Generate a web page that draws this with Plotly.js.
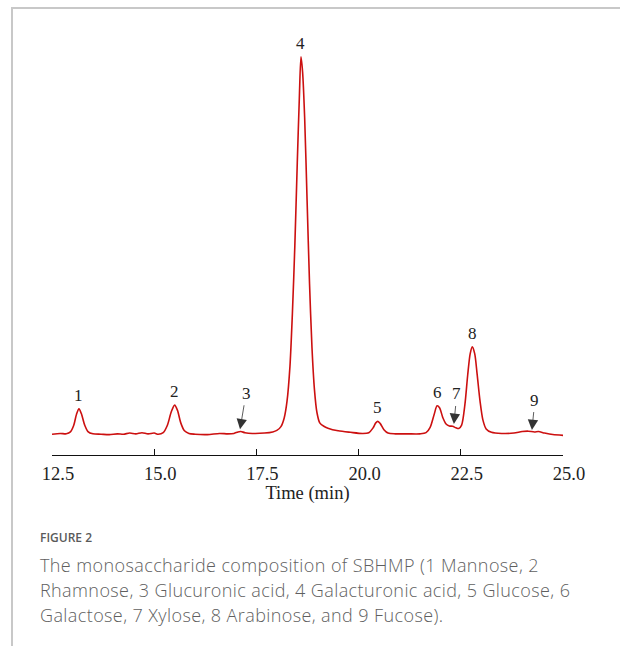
<!DOCTYPE html>
<html>
<head>
<meta charset="utf-8">
<script src="https://cdn.plot.ly/plotly-3.0.1.min.js"></script>
<style>
  html, body { margin: 0; padding: 0; background: #fff; overflow: hidden; }
  #frame { position: absolute; left: 11px; top: 7px; width: 640px; height: 700px;
           border-top: 2px solid #c8c8c8; border-left: 2px solid #c8c8c8; pointer-events: none; }
  #chart { position: absolute; left: 0; top: 0; width: 620px; height: 646px; }
  .cap { position: absolute; left: 40px; font-family: "Open Sans", sans-serif; white-space: nowrap; }
  #figlabel { top: 529px; font-size: 12px; font-weight: 600; color: #5a5a5a; }
  #captext { top: 553px; font-size: 18px; font-weight: 300; line-height: 25px; letter-spacing: 0.4px; color: #5f5f5f; }
</style>
</head>
<body>
<div id="chart"></div>
<div id="frame"></div>
<div class="cap" id="figlabel">FIGURE 2</div>
<div class="cap" id="captext">The monosaccharide composition of SBHMP (1 Mannose, 2<br>Rhamnose, 3 Glucuronic acid, 4 Galacturonic acid, 5 Glucose, 6<br>Galactose, 7 Xylose, 8 Arabinose, and 9 Fucose).</div>
<script>
// Chromatogram trace: retention time (min) and detector response (relative units)
const timeMin = [
  12.50, 12.70, 12.85, 12.95, 13.03, 13.10, 13.16, 13.22, 13.30, 13.38, 13.50,
  13.70, 13.90, 14.10, 14.25, 14.40, 14.55, 14.70, 14.85, 15.00, 15.10,
  15.22, 15.32, 15.42, 15.50, 15.57, 15.65, 15.74, 15.85, 16.00, 16.30,
  16.60, 16.80, 16.95, 17.05, 17.12, 17.22, 17.40, 17.70, 17.90,
  18.00, 18.10, 18.18, 18.25, 18.32, 18.38, 18.44, 18.50, 18.55, 18.59,
  18.63, 18.68, 18.74, 18.80, 18.86, 18.92, 18.98, 19.05, 19.15, 19.25,
  19.50, 19.80, 20.10, 20.25, 20.35, 20.42, 20.47, 20.53, 20.62, 20.72,
  20.90, 21.20, 21.50, 21.65, 21.75, 21.85, 21.92, 21.98, 22.06, 22.14,
  22.22, 22.30, 22.38, 22.45, 22.52, 22.60, 22.67, 22.73, 22.78, 22.84,
  22.90, 22.97, 23.04, 23.12, 23.25, 23.50, 23.80, 24.00, 24.15, 24.30,
  24.40, 24.55, 24.75, 25.00
];
const response = [
  0.2, 0.4, 0.3, 0.8, 2.5, 5.5, 6.9, 5.6, 2.6, 0.9, 0.3,
  0.2, 0.1, 0.3, 0.2, 0.5, 0.3, 0.6, 0.3, 0.5, 0.2,
  0.6, 2.5, 6.2, 7.9, 6.5, 3.2, 1.1, 0.4, 0.2, 0.1,
  0.4, 0.3, 0.4, 0.8, 0.9, 0.6, 0.4, 0.5, 0.8,
  1.2, 2.2, 4.5, 9, 18, 32, 50, 72, 89, 100,
  96, 84, 62, 40, 23, 12, 6, 3.2, 2.3, 1.8,
  1.1, 0.7, 0.4, 0.6, 1.8, 3.2, 3.6, 3.0, 1.4, 0.5,
  0.3, 0.3, 0.3, 0.6, 2.0, 5.5, 7.7, 7.2, 4.6, 2.9,
  2.4, 2.3, 1.9, 1.7, 2.6, 8, 16, 21.5, 23.3, 21.5,
  16, 9, 4.0, 1.6, 0.7, 0.4, 0.5, 0.9, 1.0, 0.8,
  0.9, 0.5, 0.1, -0.1
];

// Peak numbering: apex positions of the labelled peaks
const peakNames = ["1", "2", "4", "5", "6", "8"];
const peakTimes = [13.16, 15.50, 18.59, 20.47, 21.92, 22.78];
const peakHeights = [6.9, 7.9, 100, 3.6, 7.7, 23.3];

// Minor peaks marked with an arrow
const minorNames = ["3", "7", "9"];
const minorTimes = [17.10, 22.33, 24.24];
const minorHeights = [1.5, 2.9, 1.3];

const tickVals = [12.5, 15.0, 17.5, 20.0, 22.5, 25.0];
const tickText = ["12.5", "15.0", "17.5", "20.0", "22.5", "25.0"];

const serif = "Liberation Serif, Times New Roman, serif";

const annotations = [];
peakNames.forEach((name, i) => {
  annotations.push({
    x: peakTimes[i], y: peakHeights[i], xref: "x", yref: "y",
    text: name, showarrow: false, yanchor: "bottom", yshift: 2,
    font: { family: serif, size: 17, color: "#222" }
  });
});
const arrowOffsets = [[6, -36], [3, -30], [3, -30]];
minorNames.forEach((name, i) => {
  annotations.push({
    x: minorTimes[i], y: minorHeights[i], xref: "x", yref: "y",
    text: name, showarrow: true, arrowhead: 2, arrowsize: 2.6, arrowwidth: 0.8,
    arrowcolor: "#333", standoff: 0, startstandoff: 1,
    ax: arrowOffsets[i][0], ay: arrowOffsets[i][1],
    font: { family: serif, size: 17, color: "#222" }
  });
});

const trace = {
  x: timeMin, y: response, type: "scatter", mode: "lines",
  line: { color: "#cc1010", width: 1.6, shape: "spline", smoothing: 0.8 },
  hoverinfo: "skip"
};

const layout = {
  width: 620, height: 646,
  margin: { l: 52, r: 57, t: 30, b: 191 },
  paper_bgcolor: "rgba(0,0,0,0)", plot_bgcolor: "rgba(0,0,0,0)",
  showlegend: false,
  xaxis: {
    range: [12.5, 25.0], tickvals: tickVals, ticktext: tickText,
    showline: true, linecolor: "#111", linewidth: 1.3,
    ticks: "inside", ticklen: 6, tickwidth: 1.3, tickcolor: "#111",
    showgrid: false, zeroline: false, ticklabelstandoff: 1, ticklabelshift: 6,
    tickfont: { family: serif, size: 18.5, color: "#222" },
    title: { text: "Time (min)", standoff: 2, font: { family: serif, size: 18.5, color: "#222" } }
  },
  yaxis: {
    range: [-5.3, 107.1], visible: false, showgrid: false, zeroline: false
  },
  annotations: annotations
};

Plotly.newPlot("chart", [trace], layout, { staticPlot: true, displayModeBar: false });
</script>
</body>
</html>
